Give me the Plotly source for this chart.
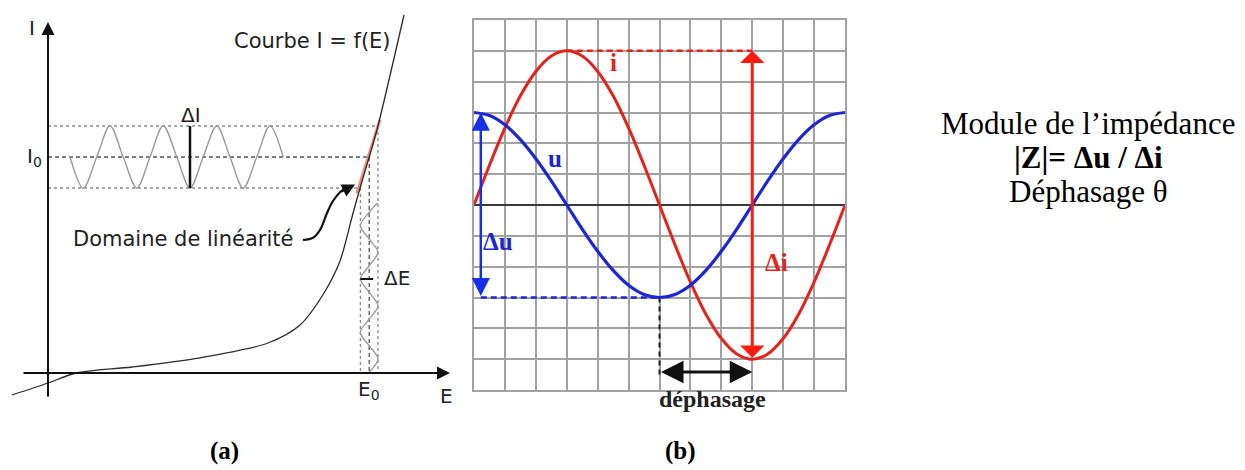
import plotly.graph_objects as go

W, H = 1245, 470

# ---------------- panel (a) : I = f(E) ----------------
curve_E = [-0.9, 0.0, 0.7, 2.1, 3.8, 5.5, 6.3, 6.9, 7.3, 7.6, 7.8, 8.03, 8.25, 8.6, 8.9]
curve_I = [-0.55, -0.25, 0.0, 0.15, 0.38, 0.75, 1.2, 2.0, 2.8, 3.9, 4.62, 5.4, 6.18, 7.65, 8.95]

I0 = 5.4
dI_half = 0.775
E0 = 8.03
dE_half = 0.22

# current response (horizontal sine around I0)
waveI_E = [0.55, 0.88, 1.22, 1.55, 1.88, 2.22, 2.55, 2.88, 3.22, 3.55, 3.88, 4.22, 4.55, 4.88, 5.22, 5.55, 5.88]
waveI_I = [5.4, 4.62, 5.4, 6.18, 5.4, 4.62, 5.4, 6.18, 5.4, 4.62, 5.4, 6.18, 5.4, 4.62, 5.4, 6.18, 5.4]

# potential perturbation (vertical sine around E0)
waveE_I = [4.25, 4.02, 3.68, 3.35, 3.02, 2.68, 2.35, 2.02, 1.68, 1.35, 1.02, 0.68, 0.35, 0.02]
waveE_E = [8.24, 8.03, 7.81, 8.03, 8.25, 8.03, 7.81, 8.03, 8.25, 8.03, 7.81, 8.03, 8.25, 8.03]

# linear domain (tangent) and pointer arrow
lin_E = [7.72, 8.3]
lin_I = [4.49, 6.33]
ptr_E = [6.375, 6.625, 6.8, 6.975, 7.125, 7.3, 7.5]
ptr_I = [3.325, 3.38, 3.575, 4.0, 4.3, 4.52, 4.66]

# ---------------- panel (b) : u(t) and i(t) ----------------
t_vals = [0, 0.5, 1, 1.5, 2, 2.5, 3, 3.5, 4, 4.5, 5, 5.5, 6,
          6.5, 7, 7.5, 8, 8.5, 9, 9.5, 10, 10.5, 11, 11.5, 12]
u_vals = [3.0, 2.9, 2.6, 2.12, 1.5, 0.78, 0.0, -0.78, -1.5, -2.12, -2.6, -2.9, -3.0,
          -2.9, -2.6, -2.12, -1.5, -0.78, 0.0, 0.78, 1.5, 2.12, 2.6, 2.9, 3.0]
i_vals = [0.0, 1.29, 2.5, 3.54, 4.33, 4.83, 5.0, 4.83, 4.33, 3.54, 2.5, 1.29, 0.0,
          -1.29, -2.5, -3.54, -4.33, -4.83, -5.0, -4.83, -4.33, -3.54, -2.5, -1.29, 0.0]
u_amp, i_amp = 3.0, 5.0
t_u_min, t_i_min, t_i_max = 6.0, 9.0, 3.0
du_x = 0.22
deph_y = -5.42

RED = "#e5231b"
BLUE = "#1c27d4"
SANS = "DejaVu Sans"
SERIF = "Liberation Serif"

# panel (b) placement (pixels) -> used to convert to paper coords for outside labels
B_X0, B_X1, B_Y0, B_Y1 = 474, 845, 20, 390

fig = go.Figure()


def add_line(x, y, ax, color, width, dash="solid", shape="linear", smoothing=1.0):
    xa, ya = ax
    fig.add_trace(go.Scatter(
        x=x, y=y, xaxis=xa, yaxis=ya, mode="lines",
        line=dict(color=color, width=width, dash=dash, shape=shape,
                  smoothing=smoothing if shape == "spline" else None),
        hoverinfo="skip", showlegend=False))


A = ("x", "y")
B = ("x2", "y2")

# reference lines in panel (a)
levels = [(I0 + dI_half, E0 + dE_half, "dot", "#8a8a8a"),
          (I0, E0, "4px,3px", "#555555"),
          (I0 - dI_half, E0 - dE_half, "dot", "#8a8a8a")]
for lvl_I, lvl_E, dsh, col in levels:
    add_line([0, lvl_E], [lvl_I, lvl_I], A, col, 1.5, dsh)
    add_line([lvl_E, lvl_E], [lvl_I, 0], A, col, 1.3, dsh)

add_line(waveI_E, waveI_I, A, "#9a9a9a", 1.4, shape="spline", smoothing=0.9)
add_line(waveE_E, waveE_I, A, "#9a9a9a", 1.4, shape="spline", smoothing=0.9)
add_line(lin_E, lin_I, A, "rgba(240,120,100,0.85)", 3)
add_line(curve_E, curve_I, A, "#2a2a2a", 1.3, shape="spline", smoothing=0.8)
add_line([waveI_E[9], waveI_E[9]], [I0 - dI_half, I0 + dI_half], A, "#111111", 2.5)
add_line([E0 - dE_half, E0 + 0.1], [waveE_I[6], waveE_I[6]], A, "#111111", 2)
add_line(ptr_E, ptr_I, A, "#111111", 2.2, shape="spline")

# panel (b)
add_line([t_i_max, t_i_min], [i_amp, i_amp], B, RED, 2.5, "6px,4px")
add_line([du_x, t_u_min], [-u_amp, -u_amp], B, BLUE, 2.5, "6px,4px")
add_line([t_u_min, t_u_min], [-u_amp, deph_y - 0.2], B, "#222222", 2, "5px,4px")
add_line(t_vals, i_vals, B, RED, 3, shape="spline")
add_line(t_vals, u_vals, B, BLUE, 3.2, shape="spline")

ann = []


def arrow(x, y, ax_, ay_, ref, color, width, size, head=2, both=False):
    d = dict(x=x, y=y, ax=ax_, ay=ay_, xref=ref[0], yref=ref[1],
             axref=ref[0], ayref=ref[1], text="", showarrow=True,
             arrowhead=head, arrowsize=size, arrowwidth=width, arrowcolor=color,
             standoff=0, startstandoff=0)
    if both:
        d.update(arrowside="end+start", startarrowhead=head, startarrowsize=size)
    ann.append(d)


# axes of panel (a)
arrow(0, 8.775, 0, -0.625, A, "#111111", 2, 1.3)
arrow(10.05, 0, -0.65, 0, A, "#111111", 2, 1.3)
# pointer head
arrow(ptr_E[-1] + 0.18, ptr_I[-1] + 0.05, ptr_E[-2], ptr_I[-2], A, "#111111", 2.2, 1.2)

# panel (b) arrows
arrow(t_i_min, i_amp, t_i_min, -i_amp, B, "#ff1a10", 3, 1.35, head=1, both=True)
arrow(du_x, u_amp, du_x, -u_amp, B, "#1530e6", 2.5, 1.45, head=2, both=True)
arrow(t_i_min, deph_y, t_u_min, deph_y, B, "#111111", 3, 1.5, head=2, both=True)


def label(text, x, y, ref, size, color="#222222", family=SANS, xanchor="center"):
    ann.append(dict(x=x, y=y, xref=ref[0], yref=ref[1], text=text, showarrow=False,
                    font=dict(family=family, size=size, color=color),
                    xanchor=xanchor, yanchor="middle"))


# panel (a) labels
label("I", -0.4, 8.62, A, 20)
label("I<sub>0</sub>", -0.33, 5.4, A, 20)
label("Courbe I = f(E)", 6.62, 8.3, A, 21)
label("ΔI", 3.58, 6.45, A, 20)
label("Domaine de linéarité", 3.38, 3.35, A, 21)
label("ΔE", 8.72, 2.37, A, 20)
label("E<sub>0</sub>", 8.03, -0.42, A, 20)
label("E", 9.95, -0.58, A, 20)

# panel (b) labels
label("<b>i</b>", 4.5, 4.62, B, 25, RED, SERIF)
label("<b>u</b>", 2.62, 1.5, B, 25, BLUE, SERIF)
label("<b>Δu</b>", 0.78, -1.17, B, 25, BLUE, SERIF)
label("<b>Δi</b>", 9.8, -1.85, B, 25, RED, SERIF)

P = ("paper", "paper")
deph_t = 7.7
deph_px = B_X0 + deph_t * (B_X1 - B_X0) / 12
label("<b>déphasage</b>", deph_px / W, 1 - 399 / H, P, 24, "#222222", SERIF)

# right-hand text and panel captions (paper coordinates)
label("Module de l’impédance", 1088 / W, 1 - 124 / H, P, 31, "#000000", SERIF)
label("<b>|Z|= Δu / Δi</b>", 1088 / W, 1 - 158 / H, P, 31, "#000000", SERIF)
label("Déphasage θ", 1088 / W, 1 - 191 / H, P, 31, "#000000", SERIF)
label("<b>(a)</b>", 224 / W, 1 - 451 / H, P, 25, "#000000", SERIF)
label("<b>(b)</b>", 680 / W, 1 - 451 / H, P, 25, "#000000", SERIF)

grid_col = "#a2a2a2"
fig.update_layout(
    width=W, height=H, margin=dict(l=0, r=0, t=0, b=0),
    paper_bgcolor="white", plot_bgcolor="white", showlegend=False,
    xaxis=dict(domain=[0, 460 / W], range=[-1.2, 10.3], visible=False),
    yaxis=dict(domain=[0, 1], range=[-2.425, 9.325], visible=False),
    xaxis2=dict(domain=[B_X0 / W, B_X1 / W], range=[0, 12], anchor="y2",
                tick0=0, dtick=1, showgrid=True, gridcolor=grid_col, gridwidth=1.5,
                showticklabels=False, ticks="", zeroline=False,
                showline=True, mirror=True, linecolor=grid_col, linewidth=1.5),
    yaxis2=dict(domain=[(H - B_Y1) / H, (H - B_Y0) / H], range=[-6, 6], anchor="x2",
                tick0=0, dtick=1, showgrid=True, gridcolor=grid_col, gridwidth=1.5,
                showticklabels=False, ticks="", zeroline=True,
                zerolinecolor="#3a3a3a", zerolinewidth=1.5,
                showline=True, mirror=True, linecolor=grid_col, linewidth=1.5),
    annotations=ann,
)

fig.write_html("out.html", config={"displayModeBar": False},
               post_script="document.body.style.margin='0px';")
